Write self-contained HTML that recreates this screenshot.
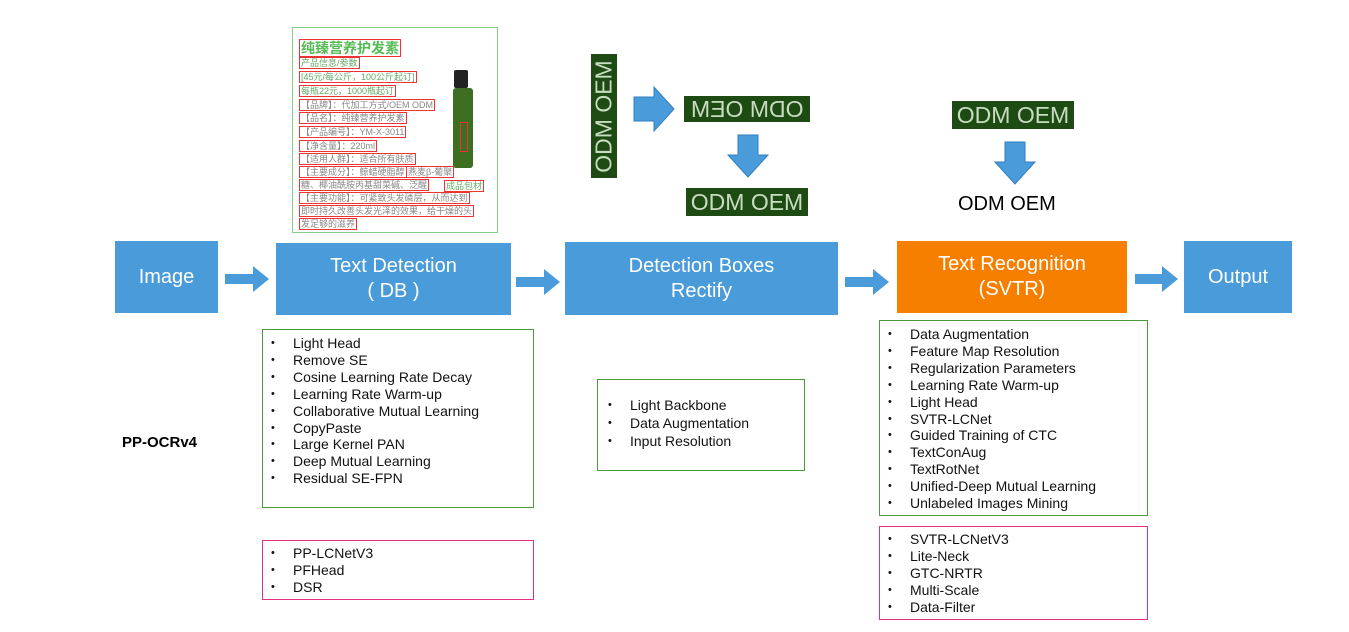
<!DOCTYPE html>
<html><head><meta charset="utf-8"><style>
body{margin:0;width:1349px;height:632px;background:#fff;position:relative;overflow:hidden;font-family:"Liberation Sans","Noto Sans CJK SC",sans-serif}
.a{position:absolute}
.b{position:absolute;background:#4a9bda;color:#fff;display:flex;align-items:center;justify-content:center;text-align:center;font-size:20px;line-height:25px}
.l{position:absolute;box-sizing:border-box;font-size:14px;line-height:16.9px;color:#111}
.l ul{margin:0;padding:0 0 0 30px}
.l li{list-style:none;position:relative}
.l li:before{content:"•";position:absolute;left:-22px;font-size:11px}
.g{background:#1e4a14;color:#c8dcc0;font-size:23px;position:absolute;display:flex;align-items:center;justify-content:center}
.r{position:absolute;border:1.5px solid #e33;color:#6a6;font-size:9px;line-height:10px;white-space:nowrap;padding:0 1px}
</style></head><body>
<div class="b" style="left:115px;top:241px;width:103px;height:72px">Image</div>
<div class="b" style="left:276px;top:243px;width:235px;height:72px">Text Detection<br>( DB )</div>
<div class="b" style="left:565px;top:242px;width:273px;height:73px">Detection Boxes<br>Rectify</div>
<div class="b" style="left:897px;top:241px;width:230px;height:72px;background:#f77f00">Text Recognition<br>(SVTR)</div>
<div class="b" style="left:1184px;top:241px;width:108px;height:72px">Output</div>
<svg class="a" style="left:0;top:0" width="1349" height="632">
<g fill="#4a9bda">
<path d="M225 274h28v-8l16 13-16 13v-8h-28z"/>
<path d="M516 277h28v-8l16 13-16 13v-8h-28z"/>
<path d="M845 277h28v-8l16 13-16 13v-8h-28z"/>
<path d="M1135 274h27v-8l16 13-16 13v-8h-27z"/>
<path d="M634 97h20v-10l20 22-20 22v-10h-20z" stroke="#2f7fc0" stroke-width="1"/>
<path d="M738 135h20v20h10l-20 22-20-22h10z" stroke="#2f7fc0" stroke-width="1"/>
<path d="M1005 142h20v20h10l-20 22-20-22h10z" stroke="#2f7fc0" stroke-width="1"/>
</g></svg>
<div class="g" style="left:591px;top:54px;width:26px;height:124px"><span style="transform:rotate(-90deg);white-space:nowrap">ODM OEM</span></div>
<div class="g" style="left:684px;top:96px;width:126px;height:26px"><span style="transform:scaleX(-1)">ODM OEM</span></div>
<div class="g" style="left:686px;top:188px;width:122px;height:28px">ODM OEM</div>
<div class="g" style="left:952px;top:101px;width:122px;height:28px">ODM OEM</div>
<div class="a" style="left:958px;top:193px;font-size:20px;color:#000">ODM OEM</div>
<div class="a" style="left:292px;top:27px;width:206px;height:206px;border:1.5px solid #8c8;box-sizing:border-box"></div>
<div class="r" style="left:299px;top:39px;font-size:14px;line-height:16px;color:#5b5;font-weight:bold">纯臻营养护发素</div>
<div class="r" style="left:299px;top:57px">产品信息/参数</div>
<div class="r" style="left:299px;top:71px">[45元/每公斤，100公斤起订]</div>
<div class="r" style="left:299px;top:85px">每瓶22元，1000瓶起订</div>
<div class="r" style="left:299px;top:99px;color:#888">【品牌】：代加工方式/OEM ODM</div>
<div class="r" style="left:299px;top:112px;color:#888">【品名】：纯臻营养护发素</div>
<div class="r" style="left:299px;top:126px;color:#888">【产品编号】：YM-X-3011</div>
<div class="r" style="left:299px;top:140px;color:#888">【净含量】：220ml</div>
<div class="r" style="left:299px;top:153px;color:#888">【适用人群】：适合所有肤质</div>
<div class="r" style="left:299px;top:166px;color:#888">【主要成分】：鲸蜡硬脂醇</div>
<div class="r" style="left:406px;top:166px;color:#888">燕麦β-葡聚</div>
<div class="r" style="left:299px;top:179px;color:#888">糖、椰油酰胺丙基甜菜碱、泛醒</div>
<div class="r" style="left:444px;top:180px">成品包材</div>
<div class="r" style="left:299px;top:192px;color:#888">【主要功能】：可紧致头发磷层，从而达到</div>
<div class="r" style="left:299px;top:205px;color:#888">即时持久改善头发光泽的效果，给干燥的头</div>
<div class="r" style="left:299px;top:218px;color:#888">发足够的滋养</div>
<div class="a" style="left:454px;top:70px;width:14px;height:18px;background:#222;border-radius:2px"></div>
<div class="a" style="left:453px;top:88px;width:20px;height:80px;background:#3d6e22;border-radius:3px"></div>
<div class="a" style="left:460px;top:122px;width:6px;height:28px;border:1px solid #e33"></div>
<div class="l" style="left:262px;top:329px;width:272px;height:179px;border:1.5px solid #4a9a3a;padding-top:5px"><ul>
<li>Light Head</li><li>Remove SE</li><li>Cosine Learning Rate Decay</li><li>Learning Rate Warm-up</li><li>Collaborative Mutual Learning</li><li>CopyPaste</li><li>Large Kernel PAN</li><li>Deep Mutual Learning</li><li>Residual SE-FPN</li></ul></div>
<div class="l" style="left:262px;top:540px;width:272px;height:60px;border:1.5px solid #e0308a;padding-top:4px"><ul>
<li>PP-LCNetV3</li><li>PFHead</li><li>DSR</li></ul></div>
<div class="l" style="left:597px;top:379px;width:208px;height:92px;border:1.5px solid #4a9a3a;padding-top:16px;line-height:18px"><ul style="padding-left:32px">
<li>Light Backbone</li><li>Data Augmentation</li><li>Input Resolution</li></ul></div>
<div class="l" style="left:879px;top:320px;width:269px;height:196px;border:1.5px solid #4a9a3a;padding-top:5px"><ul>
<li>Data Augmentation</li><li>Feature Map Resolution</li><li>Regularization Parameters</li><li>Learning Rate Warm-up</li><li>Light Head</li><li>SVTR-LCNet</li><li>Guided Training of CTC</li><li>TextConAug</li><li>TextRotNet</li><li>Unified-Deep Mutual Learning</li><li>Unlabeled Images Mining</li></ul></div>
<div class="l" style="left:879px;top:526px;width:269px;height:94px;border:1.5px solid #e0308a;padding-top:4px"><ul>
<li>SVTR-LCNetV3</li><li>Lite-Neck</li><li>GTC-NRTR</li><li>Multi-Scale</li><li>Data-Filter</li></ul></div>
<div class="a" style="left:122px;top:434px;font-size:15px;font-weight:bold">PP-OCRv4</div>
</body></html>
